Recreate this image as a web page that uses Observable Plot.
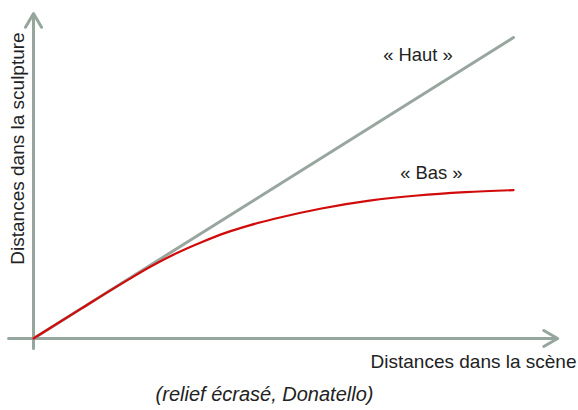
<!DOCTYPE html>
<html>
<head>
<meta charset="utf-8">
<script src="https://cdn.jsdelivr.net/npm/d3@7"></script>
<script src="https://cdn.jsdelivr.net/npm/@observablehq/plot@0.6"></script>
<style>
  html, body { margin: 0; padding: 0; background: #fff; }
  svg { display: block; }
</style>
</head>
<body>
<div id="chart"></div>
<script>
// Scene distance (x) vs sculpture distance (y), arbitrary units
const hautX = [0, 10];
const hautY = [0, 10];
const basX = [0, 1, 2, 2.5, 3, 3.5, 4, 4.5, 5, 6, 7, 8, 9, 10];
const basY = [0, 1.0, 1.98, 2.44, 2.85, 3.2, 3.51, 3.76, 3.97, 4.32, 4.58, 4.75, 4.86, 4.93];
const labels = ["« Haut »", "« Bas »"];
const labelX = [8.01, 8.29];
const labelY = [9.4, 5.48];
const xTitle = "Distances dans la scène";
const yTitle = "Distances dans la sculpture";
const caption = "(relief écrasé, Donatello)";

const haut = hautX.map((x, i) => ({x, y: hautY[i]}));
const bas = basX.map((x, i) => ({x, y: basY[i]}));
const ann = labels.map((t, i) => ({t, x: labelX[i], y: labelY[i]}));
const axes = [
  {x1: 0, y1: -0.33, x2: 0, y2: 10.8},
  {x1: -0.52, y1: 0, x2: 10.92, y2: 0}
];

const axisColor = "#95a69d";
const font = "'Liberation Sans', Arial, sans-serif";

const chart = Plot.plot({
  width: 578,
  height: 410,
  marginLeft: 33,
  marginRight: 65,
  marginTop: 37,
  marginBottom: 72,
  x: {domain: [0, 10], axis: null},
  y: {domain: [0, 10], axis: null},
  style: {fontFamily: font, background: "#fff"},
  marks: [
    Plot.arrow(axes, {x1: "x1", y1: "y1", x2: "x2", y2: "y2", stroke: axisColor, strokeWidth: 3, headLength: 8, headAngle: 60, bend: 0}),
    Plot.line(haut, {x: "x", y: "y", stroke: "#98a69f", strokeWidth: 3}),
    Plot.line(bas, {x: "x", y: "y", stroke: "#d10a0a", strokeWidth: 2.2, curve: "monotone-x"}),
    Plot.text(ann, {x: "x", y: "y", text: "t", fontSize: 18.4, fill: "#222"}),
    Plot.text([xTitle], {frameAnchor: "bottom-right", text: d => d, textAnchor: "end", dx: 63, dy: 29, fontSize: 19, fill: "#222"}),
    Plot.text([yTitle], {frameAnchor: "left", text: d => d, textAnchor: "middle", rotate: -90, dx: -15.5, dy: -39.5, fontSize: 19, fill: "#222"}),
    Plot.text([caption], {frameAnchor: "bottom", text: d => d, dx: -9, dy: 62, fontSize: 20, fontStyle: "italic", fill: "#222"})
  ]
});
document.getElementById("chart").append(chart);
</script>
</body>
</html>
